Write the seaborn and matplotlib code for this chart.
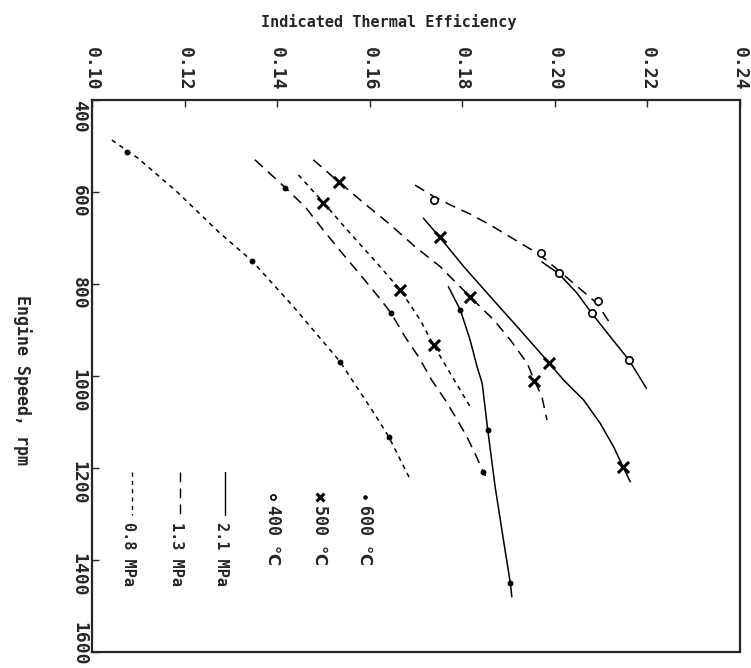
import pandas as pd
import matplotlib
matplotlib.use("Agg")
import matplotlib.pyplot as plt
import seaborn as sns

# ==========================================
# Data
# ==========================================

x_ticks = [0.10, 0.12, 0.14, 0.16, 0.18, 0.20, 0.22, 0.24]
y_ticks = [400, 600, 800, 1000, 1200, 1400, 1600]

# 0.8 MPa, 600 C
eff_08_600 = [0.1043, 0.1100, 0.1183, 0.1277, 0.1345, 0.1435, 0.1536, 0.1612, 0.1641, 0.1688]
rpm_08_600 = [487, 527, 599, 690, 749, 849, 969, 1085, 1132, 1226]
pt_eff_08_600 = [0.1075, 0.1345, 0.1536, 0.1641]
pt_rpm_08_600 = [512, 749, 969, 1132]

# 0.8 MPa, 500 C
eff_08_500 = [0.1446, 0.1500, 0.1558, 0.1616, 0.1666, 0.1709, 0.1738, 0.1774, 0.1817]
rpm_08_500 = [563, 623, 690, 755, 813, 878, 933, 994, 1067]
pt_eff_08_500 = [0.1500, 0.1666, 0.1738]
pt_rpm_08_500 = [623, 813, 933]

# 1.3 MPa, 600 C
eff_13_600 = [0.1352, 0.1418, 0.1461, 0.1500, 0.1538, 0.1588, 0.1623, 0.1646, 0.1677,
              0.1706, 0.1734, 0.1763, 0.1787, 0.1809, 0.1830, 0.1845, 0.1850]
rpm_13_600 = [530, 591, 633, 683, 730, 790, 833, 863, 916,
              959, 1009, 1052, 1092, 1130, 1174, 1208, 1217]
pt_eff_13_600 = [0.1418, 0.1646, 0.1845]
pt_rpm_13_600 = [591, 863, 1208]

# 1.3 MPa, 500 C
eff_13_500 = [0.1478, 0.1533, 0.1597, 0.1641, 0.1698, 0.1752, 0.1817, 0.1868, 0.1904,
              0.1940, 0.1956, 0.1972, 0.1983]
rpm_13_500 = [530, 578, 632, 668, 719, 762, 828, 878, 922, 972, 1010, 1045, 1096]
pt_eff_13_500 = [0.1533, 0.1817, 0.1956]
pt_rpm_13_500 = [578, 828, 1010]

# 1.3 MPa, 400 C
eff_13_400 = [0.1698, 0.1737, 0.1774, 0.1817, 0.1861, 0.1904, 0.1947, 0.1979, 0.2012,
              0.2055, 0.2092, 0.2120]
rpm_13_400 = [585, 609, 628, 648, 672, 698, 724, 746, 774, 811, 843, 887]
pt_eff_13_400 = [0.1738, 0.1970, 0.2093]
pt_rpm_13_400 = [617, 733, 838]

# 2.1 MPa, 600 C
eff_21_600 = [0.1770, 0.1796, 0.1817, 0.1832, 0.1843, 0.1855, 0.1871, 0.1889, 0.1904, 0.1907]
rpm_21_600 = [806, 857, 922, 980, 1016, 1117, 1241, 1357, 1451, 1480]
pt_eff_21_600 = [0.1796, 0.1855, 0.1904]
pt_rpm_21_600 = [857, 1117, 1451]

# 2.1 MPa, 500 C
eff_21_500 = [0.1716, 0.1751, 0.1803, 0.1861, 0.1925, 0.1987, 0.2019, 0.2062, 0.2098,
              0.2127, 0.2147, 0.2163]
rpm_21_500 = [657, 698, 762, 828, 900, 971, 1009, 1052, 1103, 1154, 1197, 1230]
pt_eff_21_500 = [0.1751, 0.1987, 0.2147]
pt_rpm_21_500 = [698, 971, 1197]

# 2.1 MPa, 400 C
eff_21_400 = [0.1972, 0.2008, 0.2048, 0.2080, 0.2120, 0.2160, 0.2198]
rpm_21_400 = [752, 777, 820, 864, 915, 965, 1027]
pt_eff_21_400 = [0.2008, 0.2080, 0.2160]
pt_rpm_21_400 = [777, 864, 965]

curves = [
    ("0.8 MPa", "600", eff_08_600, rpm_08_600, pt_eff_08_600, pt_rpm_08_600),
    ("0.8 MPa", "500", eff_08_500, rpm_08_500, pt_eff_08_500, pt_rpm_08_500),
    ("1.3 MPa", "600", eff_13_600, rpm_13_600, pt_eff_13_600, pt_rpm_13_600),
    ("1.3 MPa", "500", eff_13_500, rpm_13_500, pt_eff_13_500, pt_rpm_13_500),
    ("1.3 MPa", "400", eff_13_400, rpm_13_400, pt_eff_13_400, pt_rpm_13_400),
    ("2.1 MPa", "600", eff_21_600, rpm_21_600, pt_eff_21_600, pt_rpm_21_600),
    ("2.1 MPa", "500", eff_21_500, rpm_21_500, pt_eff_21_500, pt_rpm_21_500),
    ("2.1 MPa", "400", eff_21_400, rpm_21_400, pt_eff_21_400, pt_rpm_21_400),
]

# ==========================================
# Styling
# ==========================================

sns.set_style("ticks")
plt.rcParams["font.family"] = ["DejaVu Sans Mono", "DejaVu Sans"]
plt.rcParams["font.weight"] = "bold"

dash_map = {"2.1 MPa": "", "1.3 MPa": (7, 4.5), "0.8 MPa": (3, 3)}
marker_kw = {
    "600": dict(marker="o", s=18, color="black", edgecolor="black", linewidth=0),
    "500": dict(marker="x", s=64, color="black", linewidth=2.2),
    "400": dict(marker="o", s=28, facecolor="white", edgecolor="black", linewidth=1.2),
}

fig = plt.figure(figsize=(7.51, 6.68), dpi=100)
ax = fig.add_axes([92 / 751, 1 - 652 / 668, 648 / 751, 552 / 668])

# ==========================================
# Curves
# ==========================================

for pressure, temp, eff, rpm, p_eff, p_rpm in curves:
    line_df = pd.DataFrame({"eff": eff, "rpm": rpm, "p": pressure})
    sns.lineplot(data=line_df, x="eff", y="rpm", style="p", dashes=dash_map,
                 sort=False, estimator=None, color="black", linewidth=1.1,
                 legend=False, ax=ax)
    pt_df = pd.DataFrame({"eff": p_eff, "rpm": p_rpm})
    sns.scatterplot(data=pt_df, x="eff", y="rpm", ax=ax, legend=False,
                    zorder=3, **marker_kw[temp])

# ==========================================
# Axes
# ==========================================

ax.set_xlim(0.10, 0.24)
ax.set_ylim(1600, 400)
ax.xaxis.tick_top()
ax.set_xticks(x_ticks)
ax.set_xticklabels([f"{v:.2f}" for v in x_ticks])
ax.set_yticks(y_ticks)
# last label is placed by hand below so it stays inside the figure
ax.set_yticklabels([str(v) for v in y_ticks[:-1]] + [""])
ax.set_xlabel("")
ax.set_ylabel("")
ax.tick_params(axis="x", labelrotation=-90, direction="in", length=5, width=1,
               pad=7, labelsize=13)
ax.tick_params(axis="y", labelrotation=-90, direction="in", length=5, width=1,
               pad=3, labelsize=13)
ylabels = ax.get_yticklabels()
ylabels[0].set_va("top")
ax.annotate(str(y_ticks[-1]), xy=(0, y_ticks[-1]), xycoords=ax.get_yaxis_transform(),
            xytext=(-2.5, 6), textcoords="offset points", rotation=-90,
            ha="right", va="center", fontsize=13)
for sp in ax.spines.values():
    sp.set_visible(True)
    sp.set_linewidth(1.6)

fig.text(389 / 751, 1 - 22 / 668, "Indicated Thermal Efficiency",
         ha="center", va="center", fontsize=11)
fig.text(22 / 751, 1 - 380 / 668, "Engine Speed, rpm", rotation=-90,
         ha="center", va="center", fontsize=12)

# ==========================================
# Legend (rotated, drawn by hand)
# ==========================================

def ax_x(px):
    return (px - 92) / 648

def ax_y(py):
    return 1 - (py - 100) / 552

for px, temp in [(365, "600"), (320, "500"), (273, "400")]:
    kw = dict(marker_kw[temp])
    ax.scatter([ax_x(px)], [ax_y(497)], transform=ax.transAxes, clip_on=False,
               **{k: v for k, v in kw.items() if k != "s"},
               s=kw["s"] * (0.5 if temp != "600" else 0.6))
    ax.text(ax_x(px), ax_y(505), f"{temp} ℃", rotation=-90, transform=ax.transAxes,
            ha="center", va="top", fontsize=12)

for px, pressure in [(225, "2.1 MPa"), (180, "1.3 MPa"), (132, "0.8 MPa")]:
    ls = "-" if dash_map[pressure] == "" else (0, dash_map[pressure])
    ax.plot([ax_x(px), ax_x(px)], [ax_y(472), ax_y(515)], transform=ax.transAxes,
            color="black", linewidth=1.0, linestyle=ls)
    ax.text(ax_x(px - 4), ax_y(522), pressure, rotation=-90, transform=ax.transAxes,
            ha="center", va="top", fontsize=11)

plt.savefig("out.png", dpi=100)
plt.close()
